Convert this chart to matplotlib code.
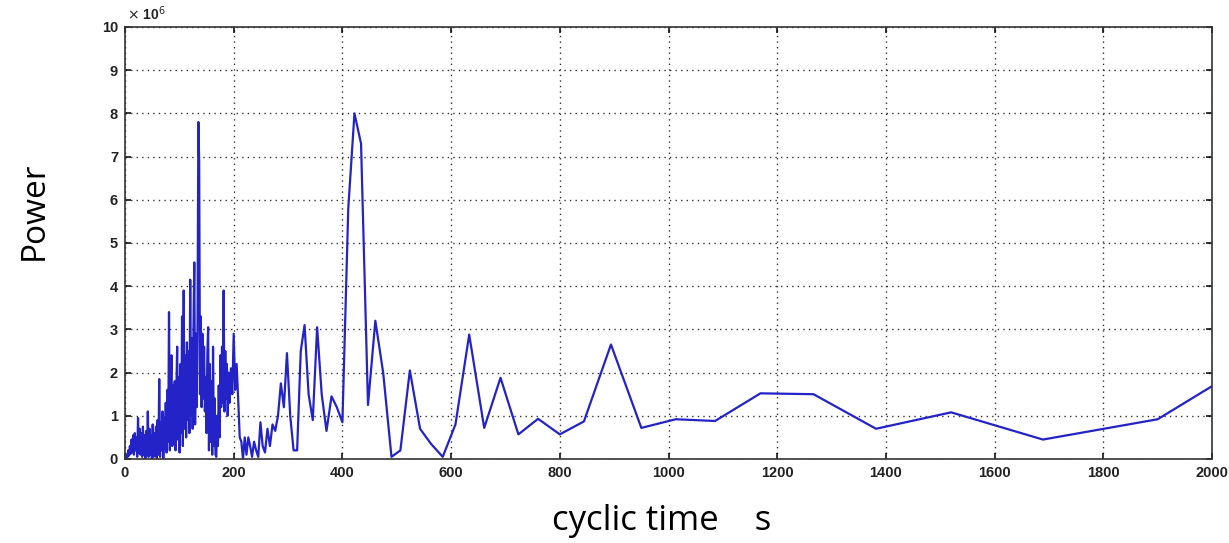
import matplotlib
matplotlib.use("Agg")
import matplotlib.pyplot as plt
import numpy as np

# dense short-period part (periods 0..190.5, step 1.5)
dense_period = [round(0.0 + 1.5 * i, 1) for i in range(128)]
dense_power = [
    0.00, 0.05, 0.10, 0.04, 0.20, 0.08, 0.30, 0.12, 0.45, 0.15,
    0.55, 0.10, 0.60, 0.20, 0.50, 0.05, 0.95, 0.15, 0.70, 0.10,
    0.60, 0.05, 0.75, 0.10, 0.55, 0.02, 0.65, 0.10, 1.10, 0.05,
    0.70, 0.10, 0.55, 0.02, 0.80, 0.05, 0.60, 0.08, 0.75, 0.02,
    0.90, 0.10, 1.85, 0.05, 0.85, 0.20, 1.10, 0.02, 0.95, 0.25,
    1.30, 0.15, 1.60, 0.40, 3.40, 0.20, 1.50, 2.40, 0.30, 1.70,
    0.35, 1.80, 0.20, 1.60, 2.60, 0.45, 1.90, 0.15, 2.20, 0.60,
    3.30, 0.30, 3.90, 0.70, 2.40, 0.50, 2.70, 0.90, 2.50, 0.60,
    4.15, 1.00, 2.80, 0.70, 3.00, 4.55, 0.80, 2.90, 1.20, 3.20,
    7.80, 6.90, 1.50, 3.30, 1.20, 2.90, 1.40, 2.60, 1.10, 1.90,
    0.60, 2.40, 3.05, 0.20, 2.20, 0.40, 1.80, 0.10, 2.60, 0.30,
    1.40, 0.10, 0.05, 1.00, 0.30, 1.70, 0.50, 2.40, 1.20, 2.60,
    1.30, 3.90, 1.10, 2.50, 1.40, 2.20, 1.00, 2.00,
]

# longer periods
sparse_period = [
    192.4, 194.9, 197.4, 200.0, 202.7, 205.4, 208.2, 211.1, 214.1, 217.1,
    220.3, 223.5, 226.9, 230.3, 233.8, 237.5, 241.3, 245.2, 249.2, 253.3,
    257.6, 262.1, 266.7, 271.4, 276.4, 281.5, 286.8, 292.3, 298.0, 304.0,
    310.2, 316.7, 323.4, 330.4, 337.8, 345.5, 353.5, 361.9, 370.7, 380.0,
    389.7, 400.0, 410.8, 422.2, 434.3, 447.1, 460.6, 475.0, 490.3, 506.7,
    524.1, 542.9, 563.0, 584.6, 608.0, 633.3, 660.9, 690.9, 723.8, 760.0,
    800.0, 844.4, 894.1, 950.0, 1013.3, 1085.7, 1169.2, 1266.7, 1381.8, 1520.0,
    1688.9, 1900.0, 2171.4,
]
sparse_power = [
    1.30, 2.10, 1.50, 2.90, 1.60, 2.20, 1.40, 0.50, 0.40, 0.00,
    0.50, 0.10, 0.50, 0.30, 0.05, 0.40, 0.20, 0.05, 0.85, 0.30,
    0.15, 0.70, 0.30, 0.80, 0.65, 1.00, 1.75, 1.20, 2.45, 1.00,
    0.20, 0.20, 2.50, 3.10, 1.50, 0.90, 3.05, 1.50, 0.65, 1.45,
    1.20, 0.85, 5.80, 8.00, 7.30, 1.25, 3.20, 2.00, 0.05, 0.20,
    2.05, 0.70, 0.35, 0.05, 0.80, 2.88, 0.72, 1.88, 0.57, 0.93,
    0.57, 0.87, 2.65, 0.72, 0.92, 0.88, 1.52, 1.50, 0.70, 1.08,
    0.45, 0.92, 3.00,
]

period = np.array(dense_period + sparse_period)
power = np.array(dense_power + sparse_power)

x_ticks = [0, 200, 400, 600, 800, 1000, 1200, 1400, 1600, 1800, 2000]
y_ticks = [0, 1, 2, 3, 4, 5, 6, 7, 8, 9, 10]

fig = plt.figure(figsize=(12.29, 5.43), dpi=100)
ax = fig.add_axes([0.1017, 0.1547, 0.8845, 0.7956])

ax.plot(period, power, color="#2323c8", linewidth=1.6)

ax.set_xlim(0, 2000)
ax.set_ylim(0, 10)
ax.set_xticks(x_ticks)
ax.set_yticks(y_ticks)
ax.grid(True, color="#333333", linestyle=(0, (1, 3)), linewidth=1.0)
ax.tick_params(direction="in", length=4, width=1.1, top=True, right=True,
               labelsize=10.5, pad=5)
for lab in ax.get_xticklabels() + ax.get_yticklabels():
    lab.set_family("Liberation Sans")
    lab.set_fontweight("bold")
    lab.set_color("#222222")
for sp in ax.spines.values():
    sp.set_linewidth(1.2)
    sp.set_color("#333333")

fig.text(0.103, 0.957, r"$\times$ 10$^6$", fontsize=10, family="Liberation Sans",
         fontweight="bold", ha="left", va="bottom", color="#222222")

fig.text(0.028, 0.611, "Power", rotation=90, fontsize=24, family="Open Sans",
         ha="center", va="center")
fig.text(0.538, 0.04, "cyclic time    s", fontsize=25, family="Open Sans",
         ha="center", va="center")

plt.savefig("out.png", dpi=100)
